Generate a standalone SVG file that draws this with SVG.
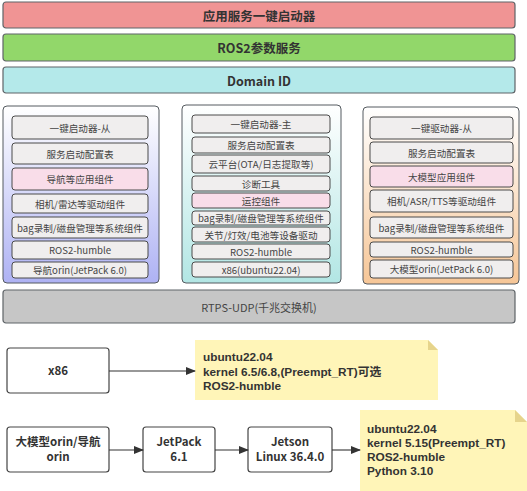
<svg xmlns="http://www.w3.org/2000/svg" width="527" height="491" viewBox="0 0 527 491">
<style>
.bar{stroke:#5f6468;stroke-width:1.2}
.bt{font-family:"Noto Sans CJK SC","Noto Sans",sans-serif;font-weight:bold;font-size:12.5px;fill:#333;text-anchor:middle;dominant-baseline:central}
.cont{stroke:#555b60;stroke-width:1}
.cell{fill:#f0eeee;stroke:#4a4a4a;stroke-width:1}
.pink{fill:#f9dde9}
.ct{font-family:"Noto Sans CJK SC","Noto Sans",sans-serif;font-size:9.6px;fill:#444;text-anchor:middle;dominant-baseline:central}
.box{fill:#fff;stroke:#444;stroke-width:1.2}
.bx{font-family:"Noto Sans CJK SC","Noto Sans",sans-serif;font-weight:bold;font-size:11.5px;fill:#333;text-anchor:middle}
.note{fill:#fff5b8}
.fold{fill:#e6d48c}
.nt{font-family:"Liberation Sans","Noto Sans CJK SC",sans-serif;font-weight:bold;font-size:11.8px;fill:#333}
.ln{stroke:#333;stroke-width:1.1;fill:none}
.rt{font-family:"Noto Sans CJK SC","Noto Sans",sans-serif;font-size:11px;fill:#444;text-anchor:middle;dominant-baseline:central}
</style>
<defs>
<linearGradient id="g1" x1="0" y1="0" x2="0" y2="1"><stop offset="0" stop-color="#ffffff"/><stop offset="1" stop-color="#aeb2f4"/></linearGradient>
<linearGradient id="g2" x1="0" y1="0" x2="0" y2="1"><stop offset="0" stop-color="#ffffff"/><stop offset="1" stop-color="#b2e6e4"/></linearGradient>
<linearGradient id="g3" x1="0" y1="0" x2="0" y2="1"><stop offset="0" stop-color="#ffffff"/><stop offset="1" stop-color="#f6c697"/></linearGradient>
<marker id="ah" markerWidth="10" markerHeight="8" refX="9" refY="4" orient="auto" markerUnits="userSpaceOnUse"><path d="M0,0 L10,4 L0,8 Z" fill="#333"/></marker>
</defs>

<g id="bar-launcher"><rect class="bar" x="3" y="2" width="512" height="26" rx="3" fill="#f09494"/><text class="bt" x="259" y="15">应用服务一键启动器</text></g>
<g id="bar-params"><rect class="bar" x="3" y="34" width="512" height="27" rx="3" fill="#92d76a"/><text class="bt" x="259" y="47.5">ROS2参数服务</text></g>
<g id="bar-domain"><rect class="bar" x="3" y="67" width="512" height="26" rx="3" fill="#b4e9ea"/><text class="bt" x="259" y="80">Domain ID</text></g>

<g id="node-nav">
<rect class="cont" x="3" y="106" width="156" height="177" rx="4" fill="url(#g1)"/>
<rect class="cell" x="12" y="116" width="136" height="23" rx="3"/><text class="ct" x="80" y="127.5">一键启动器-从</text>
<rect class="cell" x="12" y="143" width="136" height="21" rx="3"/><text class="ct" x="80" y="153.5">服务启动配置表</text>
<rect class="cell pink" x="12" y="168" width="136" height="22" rx="3"/><text class="ct" x="80" y="179">导航等应用组件</text>
<rect class="cell" x="12" y="194" width="136" height="19" rx="3"/><text class="ct" x="80" y="203.5">相机/雷达等驱动组件</text>
<rect class="cell" x="12" y="217" width="136" height="21" rx="3"/><text class="ct" x="80" y="227.5">bag录制/磁盘管理等系统组件</text>
<rect class="cell" x="12" y="241" width="136" height="18" rx="3"/><text class="ct" x="80" y="250">ROS2-humble</text>
<rect class="cell" x="12" y="262" width="136" height="16" rx="3"/><text class="ct" x="80" y="270">导航orin(JetPack 6.0)</text>
</g>

<g id="node-main">
<rect class="cont" x="182" y="105" width="159" height="178" rx="4" fill="url(#g2)"/>
<rect class="cell" x="192" y="115" width="138" height="18" rx="3"/><text class="ct" x="261" y="124">一键启动器-主</text>
<rect class="cell" x="192" y="137" width="138" height="16" rx="3"/><text class="ct" x="261" y="145">服务启动配置表</text>
<rect class="cell" x="192" y="155" width="138" height="18" rx="3"/><text class="ct" x="261" y="164">云平台(OTA/日志提取等)</text>
<rect class="cell" x="192" y="176" width="138" height="15" rx="3"/><text class="ct" x="261" y="183.5">诊断工具</text>
<rect class="cell pink" x="192" y="193" width="138" height="15" rx="3"/><text class="ct" x="261" y="200.5">运控组件</text>
<rect class="cell" x="192" y="211" width="138" height="14" rx="3"/><text class="ct" x="261" y="218">bag录制/磁盘管理等系统组件</text>
<rect class="cell" x="192" y="227" width="138" height="15" rx="3"/><text class="ct" x="261" y="234.5">关节/灯效/电池等设备驱动</text>
<rect class="cell" x="192" y="244" width="138" height="15" rx="3"/><text class="ct" x="261" y="251.5">ROS2-humble</text>
<rect class="cell" x="192" y="262" width="138" height="15" rx="3"/><text class="ct" x="261" y="269.5">x86(ubuntu22.04)</text>
</g>

<g id="node-llm">
<rect class="cont" x="363" y="107" width="156" height="177" rx="4" fill="url(#g3)"/>
<rect class="cell" x="370" y="117" width="143" height="22" rx="3"/><text class="ct" x="441.5" y="128">一键驱动器-从</text>
<rect class="cell" x="370" y="142" width="143" height="21" rx="3"/><text class="ct" x="441.5" y="152.5">服务启动配置表</text>
<rect class="cell pink" x="370" y="166" width="143" height="21" rx="3"/><text class="ct" x="441.5" y="176.5">大模型应用组件</text>
<rect class="cell" x="370" y="190" width="143" height="22" rx="3"/><text class="ct" x="441.5" y="201">相机/ASR/TTS等驱动组件</text>
<rect class="cell" x="370" y="217" width="143" height="21" rx="3"/><text class="ct" x="441.5" y="227.5">bag录制/磁盘管理等系统组件</text>
<rect class="cell" x="370" y="242" width="143" height="15" rx="3"/><text class="ct" x="441.5" y="249.5">ROS2-humble</text>
<rect class="cell" x="370" y="260" width="143" height="18" rx="3"/><text class="ct" x="441.5" y="269">大模型orin(JetPack 6.0)</text>
</g>

<g id="bar-rtps"><rect class="bar" x="3" y="290" width="512" height="33" rx="3" fill="#c6c6c6"/><text class="rt" x="259" y="306.5">RTPS-UDP(千兆交换机)</text></g>

<g id="node-x86"><rect class="box" x="7" y="348" width="102" height="45" rx="3"/><text class="bx" x="58" y="375">x86</text></g>

<g id="note-x86">
<path class="note" d="M195,340 H428 L438,350 V400 H195 Z"/>
<path class="fold" d="M428,340 L438,350 H428 Z"/>
<text class="nt" x="203" y="361">ubuntu22.04</text>
<text class="nt" x="203" y="376">kernel 6.5/6.8,(Preempt_RT)可选</text>
<text class="nt" x="203" y="390">ROS2-humble</text>
</g>

<g id="node-orin"><rect class="box" x="7" y="427" width="102" height="45" rx="3"/><text class="bx" x="58" y="446">大模型orin/导航</text><text class="bx" x="58" y="461">orin</text></g>
<g id="node-jetpack"><rect class="box" x="143" y="427" width="72" height="45" rx="3"/><text class="bx" x="179" y="446">JetPack</text><text class="bx" x="179" y="461">6.1</text></g>
<g id="node-jetson"><rect class="box" x="248" y="427" width="84" height="45" rx="3"/><text class="bx" x="290" y="446">Jetson</text><text class="bx" x="290" y="461">Linux 36.4.0</text></g>

<g id="note-orin">
<path class="note" d="M360,410 H515 L527,422 V491 H360 Z"/>
<path class="fold" d="M515,410 L527,422 H515 Z"/>
<text class="nt" x="367" y="433">ubuntu22.04</text>
<text class="nt" x="367" y="447">kernel 5.15(Preempt_RT)</text>
<text class="nt" x="367" y="461">ROS2-humble</text>
<text class="nt" x="367" y="475">Python 3.10</text>
</g>

<g id="connectors">
<line class="ln" x1="109" y1="371" x2="195" y2="371" marker-end="url(#ah)"/>
<line class="ln" x1="109" y1="450" x2="143" y2="450" marker-end="url(#ah)"/>
<line class="ln" x1="215" y1="450" x2="248" y2="450" marker-end="url(#ah)"/>
<line class="ln" x1="332" y1="450" x2="360" y2="450" marker-end="url(#ah)"/>
</g>
</svg>
